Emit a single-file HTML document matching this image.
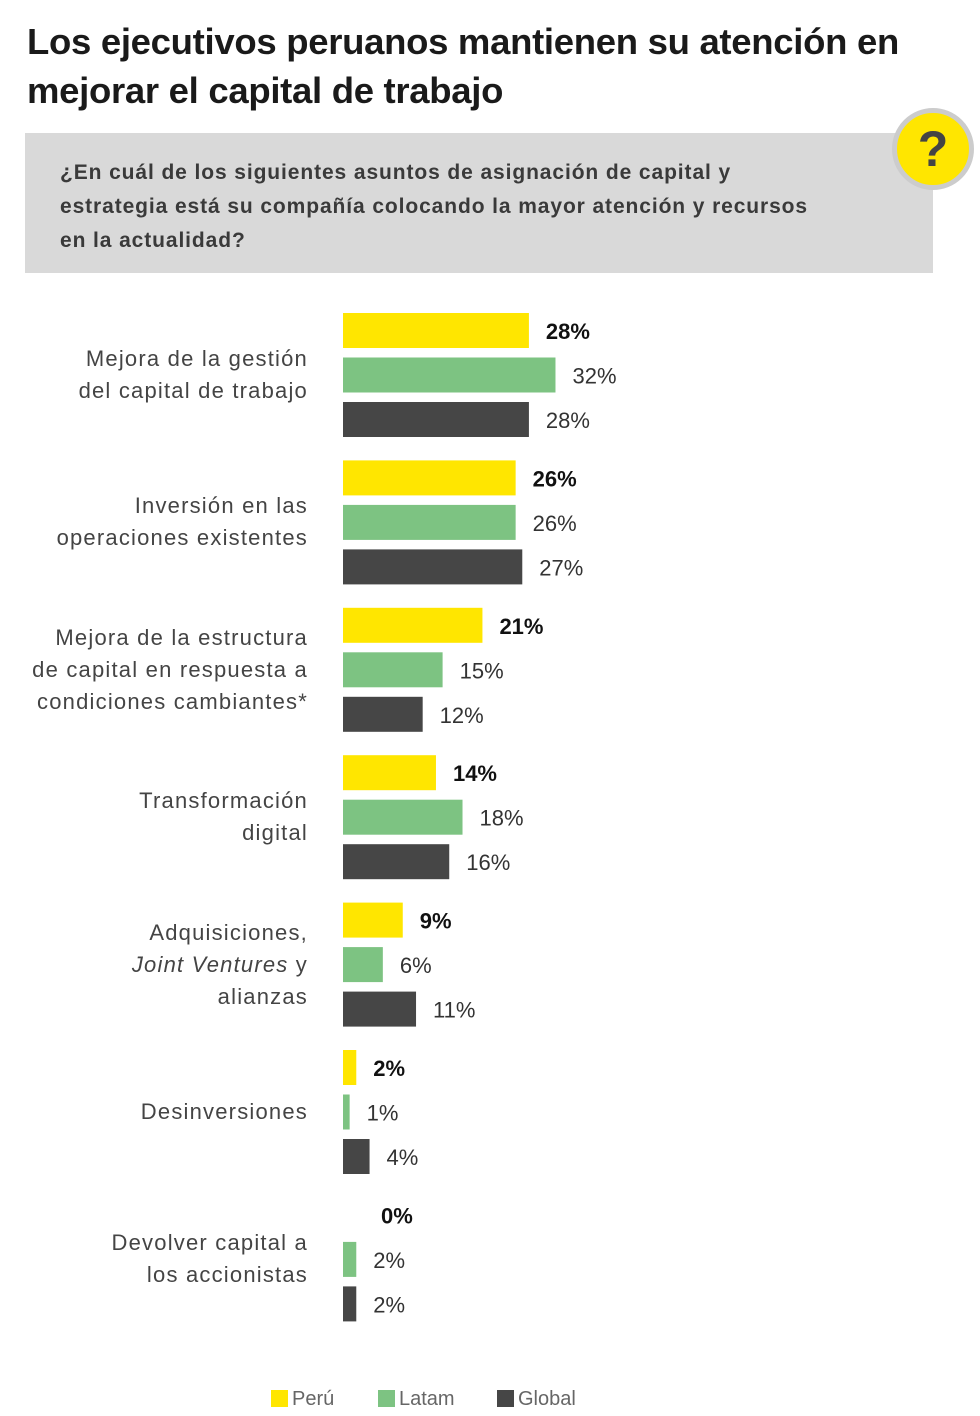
<!DOCTYPE html>
<html><head><meta charset="utf-8"><style>
body{margin:0;width:980px;height:1416px;background:#fff;font-family:"Liberation Sans",sans-serif;position:relative;overflow:hidden}
.title{position:absolute;left:27px;top:17px;font-size:36.5px;font-weight:bold;color:#1a1a1a;line-height:49px;letter-spacing:-0.3px;white-space:nowrap}
.qbox{position:absolute;left:25px;top:133px;width:908px;height:140px;background:#d9d9d9}
.qtext{position:absolute;left:60px;top:156px;font-size:21px;font-weight:bold;color:#3a3a3a;line-height:34px;letter-spacing:0.9px;white-space:nowrap}
.qicon{position:absolute;left:894px;top:110px;width:72px;height:72px;border-radius:50%;background:#ffe600;border:5px solid #ccc;box-sizing:content-box;text-align:center;font-size:50px;font-weight:bold;color:#444;line-height:72px;transform:translate(-2px,-2px)}
.cat{position:absolute;right:672px;text-align:right;font-size:22px;color:#444;line-height:32px;letter-spacing:1.2px;white-space:nowrap}
.legend{position:absolute;top:1388px;font-size:20px;color:#666}
.sw{display:inline-block;width:17px;height:17px;margin-right:4px;vertical-align:-2px}
</style></head><body>
<div class="title">Los ejecutivos peruanos mantienen su atención en<br>mejorar el capital de trabajo</div>
<div class="qbox"></div>
<div class="qtext">¿En cuál de los siguientes asuntos de asignación de capital y<br>estrategia está su compañía colocando la mayor atención y recursos<br>en la actualidad?</div>
<div class="qicon">?</div>
<svg id="chart" width="980" height="1416" style="position:absolute;left:0;top:0"></svg>
<div id="cats"></div>
<div class="legend" style="left:271px"><span class="sw" style="background:#ffe600"></span>Perú</div>
<div class="legend" style="left:378px"><span class="sw" style="background:#7dc382"></span>Latam</div>
<div class="legend" style="left:497px"><span class="sw" style="background:#464646"></span>Global</div>
<script>
const categories=[["Mejora de la gestión","del capital de trabajo"],["Inversión en las","operaciones existentes"],["Mejora de la estructura","de capital en respuesta a","condiciones cambiantes*"],["Transformación","digital"],["Adquisiciones,","<i>Joint Ventures</i> y","alianzas"],["Desinversiones"],["Devolver capital a","los accionistas"]];
const peru=[28,26,21,14,9,2,0];
const latam=[32,26,15,18,6,1,2];
const global=[28,27,12,16,11,4,2];
const seriesColors=["#ffe600","#7dc382","#464646"];
const seriesNames=["peru","latam","global"];
const svg=document.getElementById('chart');
const NS="http://www.w3.org/2000/svg";
const x0=343, pxPer=6.64;
function xs(v){return v*pxPer;}
function groupY(i){return 313+i*147.4;}
const all=[peru,latam,global];
categories.forEach((c,i)=>{
  const gy=groupY(i);
  all.forEach((s,k)=>{
    const y=gy+k*44.5;
    const r=document.createElementNS(NS,'rect');
    r.setAttribute('x',x0);r.setAttribute('y',y);r.setAttribute('width',xs(s[i]));r.setAttribute('height',35);r.setAttribute('fill',seriesColors[k]);
    
    
    svg.appendChild(r);
    const t=document.createElementNS(NS,'text');
    t.setAttribute('x',x0+xs(s[i])+(s[i]===0?38:17));t.setAttribute('y',y+26);
    t.setAttribute('font-size','22');t.setAttribute('fill',k===0?'#111':'#333');
    if(k===0)t.setAttribute('font-weight','bold');
    t.setAttribute('font-family','Liberation Sans, sans-serif');
    t.textContent=s[i]+'%';
    
    
    svg.appendChild(t);
  });
  const d=document.createElement('div');
  d.className='cat';
  d.innerHTML=c.join('<br>');
  d.style.top=(gy+62-c.length*16)+'px';
  
  
  document.getElementById('cats').appendChild(d);
});
</script>
</body></html>
